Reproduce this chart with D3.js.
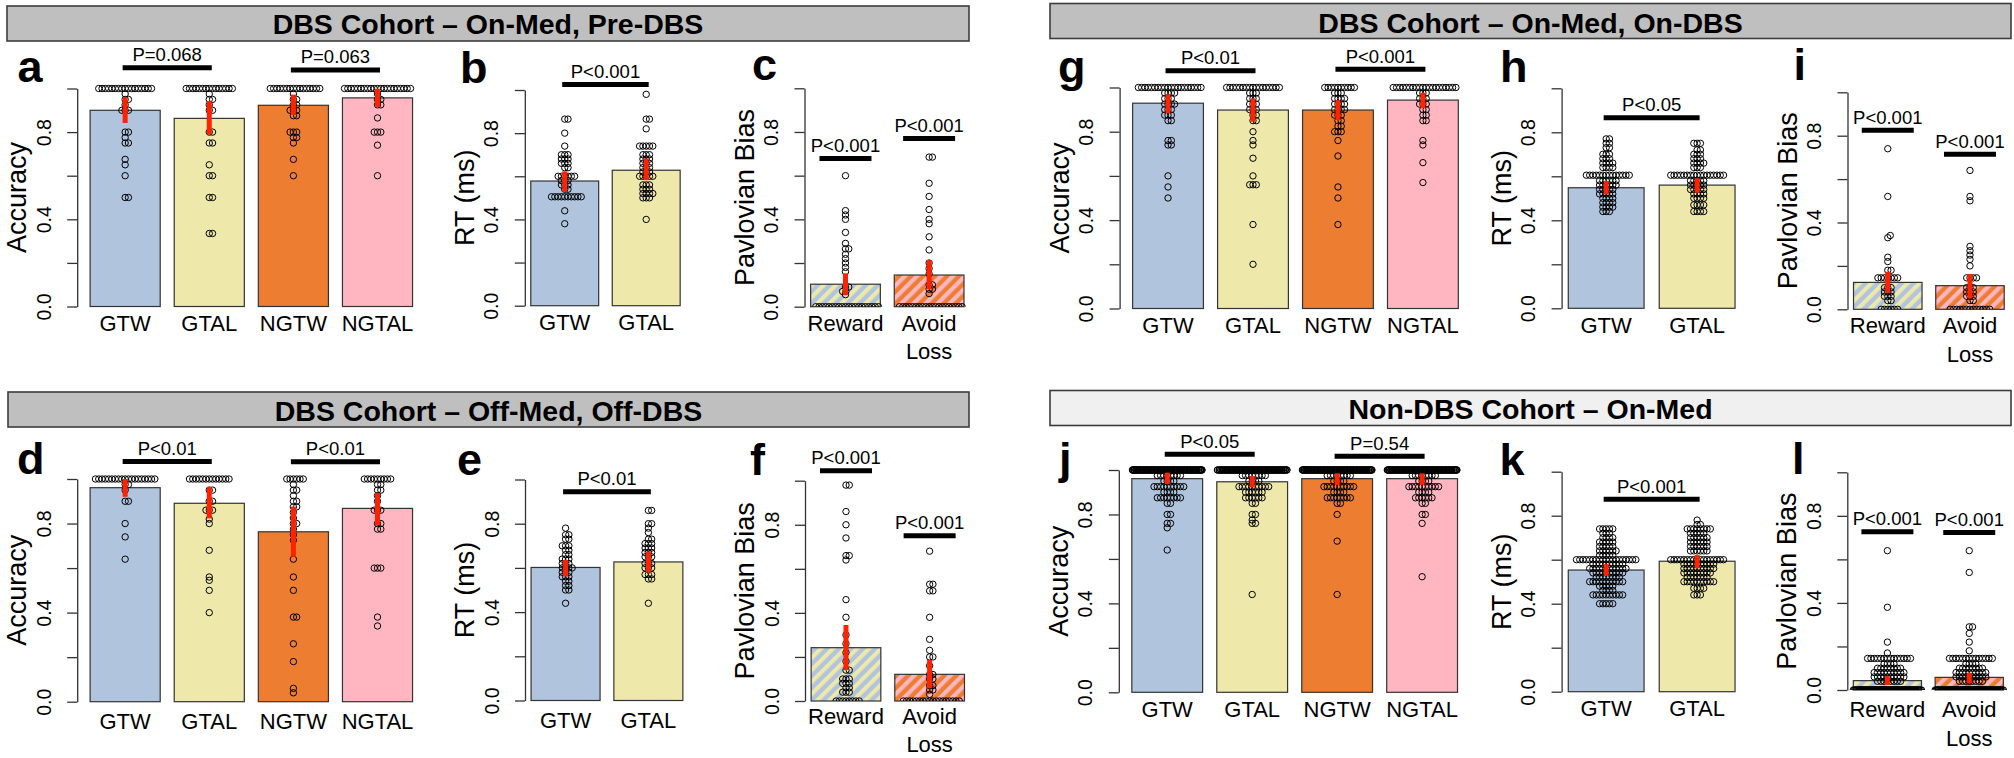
<!DOCTYPE html>
<html><head><meta charset="utf-8">
<script src="https://cdn.jsdelivr.net/npm/d3@7"></script>
<style>body{margin:0;background:#fff}svg{display:block}</style>
</head><body><svg id="chart" width="2014" height="758"></svg>
<script>
// ---------------- DATA ----------------
const accCategories = [["GTW"],["GTAL"],["NGTW"],["NGTAL"]];
const rtCategories = [["GTW"],["GTAL"]];
const biasCategories = [["Reward"],["Avoid","Loss"]];
const tickValues = [0,0.2,0.4,0.6,0.8,1.0];
const tickLabels = ["0.0","","0.4","","0.8",""];
const headerTitles = ["DBS Cohort – On-Med, Pre-DBS","DBS Cohort – On-Med, On-DBS","DBS Cohort – Off-Med, Off-DBS","Non-DBS Cohort – On-Med"];
const axisTitles = ["Accuracy","RT (ms)","Pavlovian Bias"];

// points are given as [value, count] frequency tables
// Panel a
const aMeans=[0.900,0.863,0.923,0.957], aLo=[0.842,0.789,0.880,0.916], aHi=[0.960,0.942,0.972,0.999];
const aPoints=[
 [[1,17],[0.975,1],[0.95,2],[0.925,1],[0.9,3],[0.8,2],[0.775,1],[0.75,2],[0.675,1],[0.65,1],[0.6,1],[0.5,2]],
 [[1,15],[0.975,1],[0.95,2],[0.925,1],[0.9,2],[0.8,2],[0.75,2],[0.65,1],[0.6,2],[0.5,2],[0.335,2]],
 [[1,16],[0.975,1],[0.95,2],[0.925,2],[0.9,3],[0.875,2],[0.8,3],[0.775,2],[0.75,1],[0.675,1],[0.6,1]],
 [[1,21],[0.975,1],[0.95,2],[0.925,2],[0.865,1],[0.8,3],[0.74,1],[0.6,1]]];
const aP=["P=0.068","P=0.063"], aPY=[1.095,1.085];
// Panel b
const bMeans=[0.578,0.628], bLo=[0.528,0.582], bHi=[0.623,0.683];
const bPoints=[
 [[0.865,2],[0.8,1],[0.74,1],[0.7,3],[0.68,3],[0.66,3],[0.64,2],[0.6,6],[0.58,3],[0.56,3],[0.54,2],[0.505,10],[0.44,1],[0.38,1]],
 [[0.98,1],[0.865,2],[0.82,1],[0.74,5],[0.7,3],[0.68,3],[0.66,3],[0.64,3],[0.62,3],[0.6,5],[0.56,3],[0.54,3],[0.52,4],[0.5,3],[0.4,1]]];
const bP=["P<0.001"], bPY=[1.026];
// Panel c
const cMeans=[0.103,0.145], cLo=[0.054,0.080], cHi=[0.153,0.214];
const cPoints=[
 [[0.6,1],[0.44,1],[0.42,1],[0.4,1],[0.34,1],[0.29,1],[0.265,2],[0.24,1],[0.22,1],[0.2,1],[0.18,1],[0.16,1],[0.09,2],[0.07,2],[0.055,1],[0,20]],
 [[0.685,2],[0.565,1],[0.505,1],[0.445,1],[0.4,1],[0.38,1],[0.32,1],[0.26,1],[0.2,1],[0.175,1],[0.15,1],[0.1,2],[0.08,2],[0.06,1],[0,20]]];
const cP=["P<0.001","P<0.001"], cPY=[0.678,0.770];
// Panel d
const dMeans=[0.961,0.891,0.763,0.868], dLo=[0.920,0.823,0.651,0.793], dHi=[1.0,0.965,0.876,0.936];
const dPoints=[
 [[1,19],[0.975,2],[0.95,1],[0.9,2],[0.8,1],[0.74,1],[0.64,1]],
 [[1,13],[0.95,2],[0.9,2],[0.86,3],[0.82,1],[0.8,1],[0.68,1],[0.56,1],[0.545,1],[0.5,1],[0.4,1]],
 [[1,6],[0.975,1],[0.95,2],[0.925,1],[0.9,2],[0.875,2],[0.85,1],[0.825,1],[0.8,2],[0.775,1],[0.75,1],[0.725,1],[0.64,1],[0.56,1],[0.5,1],[0.38,2],[0.26,1],[0.18,1],[0.06,1],[0.04,1]],
 [[1,9],[0.975,2],[0.95,2],[0.925,1],[0.9,1],[0.86,3],[0.8,2],[0.775,2],[0.6,3],[0.38,1],[0.34,1]]];
const dP=["P<0.01","P<0.01"], dPY=[1.079,1.078];
// Panel e
const eMeans=[0.602,0.627], eLo=[0.561,0.579], eHi=[0.636,0.674];
const ePoints=[
 [[0.78,1],[0.75,2],[0.73,2],[0.7,3],[0.68,2],[0.66,2],[0.64,3],[0.62,3],[0.6,4],[0.58,3],[0.56,3],[0.54,2],[0.52,2],[0.5,2],[0.44,1]],
 [[0.86,2],[0.8,2],[0.78,1],[0.76,1],[0.73,2],[0.71,3],[0.69,3],[0.67,3],[0.65,3],[0.62,3],[0.6,3],[0.57,3],[0.55,2],[0.44,1]]];
const eP=["P<0.01"], ePY=[0.945];
// Panel f
const fMeans=[0.242,0.121], fLo=[0.141,0.058], fHi=[0.345,0.186];
const fPoints=[
 [[0.98,2],[0.86,1],[0.8,1],[0.74,1],[0.66,2],[0.64,1],[0.46,1],[0.38,1],[0.3,1],[0.26,1],[0.22,1],[0.18,1],[0.14,2],[0.1,3],[0.08,3],[0.06,2],[0.04,3],[0,8]],
 [[0.68,1],[0.53,2],[0.5,2],[0.38,1],[0.28,1],[0.23,1],[0.2,2],[0.16,1],[0.12,2],[0.1,2],[0.07,2],[0.05,2],[0.03,1],[0,18]]];
const fP=["P<0.001","P<0.001"], fPY=[1.045,0.750];
// Panel g
const gMeans=[0.929,0.898,0.898,0.943], gLo=[0.883,0.845,0.853,0.906], gHi=[0.970,0.951,0.943,0.976];
const gPoints=[
 [[1,20],[0.975,4],[0.95,3],[0.925,4],[0.9,3],[0.875,3],[0.85,2],[0.76,2],[0.74,2],[0.6,1],[0.55,1],[0.5,1]],
 [[1,17],[0.975,3],[0.95,3],[0.925,3],[0.9,3],[0.875,2],[0.85,2],[0.8,1],[0.76,1],[0.74,1],[0.68,1],[0.6,1],[0.56,3],[0.38,1],[0.2,1]],
 [[1,10],[0.975,3],[0.95,4],[0.925,4],[0.9,4],[0.875,3],[0.85,2],[0.825,2],[0.8,3],[0.76,1],[0.69,1],[0.55,1],[0.5,1],[0.38,1]],
 [[1,20],[0.975,3],[0.95,3],[0.925,3],[0.9,2],[0.875,2],[0.85,2],[0.76,1],[0.74,1],[0.66,1],[0.57,1]]];
const gP=["P<0.01","P<0.001"], gPY=[1.076,1.083];
// Panel h
const hMeans=[0.548,0.560], hLo=[0.518,0.525], hHi=[0.579,0.591];
const hPoints=[
 [[0.77,2],[0.75,2],[0.73,2],[0.7,3],[0.68,3],[0.66,4],[0.64,4],[0.605,14],[0.58,6],[0.56,6],[0.54,5],[0.52,5],[0.5,4],[0.48,4],[0.46,4],[0.44,3]],
 [[0.75,3],[0.72,2],[0.7,3],[0.68,3],[0.66,4],[0.64,3],[0.605,17],[0.58,5],[0.56,5],[0.54,5],[0.52,4],[0.5,4],[0.47,4],[0.44,4]]];
const hP=["P<0.05"], hPY=[0.866];
// Panel i
const iMeans=[0.124,0.109], iLo=[0.074,0.050], iHi=[0.173,0.163];
const iPoints=[
 [[0.74,1],[0.52,1],[0.34,1],[0.33,1],[0.24,1],[0.22,1],[0.18,2],[0.145,7],[0.1,3],[0.08,3],[0.06,3],[0.04,2],[0,6]],
 [[0.64,1],[0.52,1],[0.5,1],[0.29,1],[0.27,1],[0.25,1],[0.23,1],[0.2,1],[0.145,4],[0.1,3],[0.08,3],[0.06,3],[0.04,2],[0,13]]];
const iP=["P<0.001","P<0.001"], iPY=[0.825,0.715];
// Panel j
const jMeans=[0.961,0.947,0.961,0.961], jLo=[0.937,0.922,0.932,0.932], jHi=[0.988,0.973,0.985,0.985];
const jPoints=[
 [[1,110],[0.975,8],[0.95,4],[0.925,10],[0.9,4],[0.875,8],[0.85,2],[0.8,2],[0.76,2],[0.74,1],[0.64,1]],
 [[1,106],[0.975,8],[0.95,4],[0.925,10],[0.9,6],[0.875,6],[0.85,2],[0.8,2],[0.775,1],[0.76,2],[0.44,1]],
 [[1,110],[0.975,8],[0.95,4],[0.925,10],[0.9,4],[0.875,8],[0.85,2],[0.8,1],[0.68,1],[0.44,1]],
 [[1,110],[0.975,8],[0.95,4],[0.925,10],[0.9,4],[0.875,6],[0.85,2],[0.8,2],[0.76,1],[0.52,1]]];
const jP=["P<0.05","P=0.54"], jPY=[1.071,1.062];
// Panel k
const kMeans=[0.553,0.593], kLo=[0.526,0.561], kHi=[0.580,0.621];
const kPoints=[
 [[0.74,5],[0.72,3],[0.7,4],[0.68,5],[0.66,5],[0.64,6],[0.62,5],[0.6,19],[0.58,10],[0.56,12],[0.54,10],[0.52,8],[0.5,11],[0.48,5],[0.46,4],[0.44,10],[0.4,5]],
 [[0.78,1],[0.76,2],[0.74,8],[0.72,5],[0.7,6],[0.68,6],[0.66,6],[0.64,6],[0.6,17],[0.58,10],[0.56,10],[0.54,9],[0.52,7],[0.5,10],[0.47,4],[0.44,3]]];
const kP=["P<0.001"], kPY=[0.875];
// Panel l
const lMeans=[0.043,0.058], lLo=[0.023,0.031], lHi=[0.064,0.079];
const lPoints=[
 [[0.64,1],[0.38,1],[0.22,1],[0.17,1],[0.145,14],[0.12,4],[0.1,8],[0.08,10],[0.06,10],[0.04,8],[0,100]],
 [[0.64,1],[0.54,1],[0.29,2],[0.26,1],[0.22,1],[0.18,1],[0.145,14],[0.12,4],[0.1,8],[0.08,10],[0.06,10],[0.04,8],[0,96]]];
const lP=["P<0.001","P<0.001"], lPY=[0.727,0.724];

// ---------------- STYLE / LAYOUT ----------------
const FONT='"Liberation Sans", Arial, Helvetica, sans-serif';
const accFills=["#b0c4de","#eee8aa","#ed7d31","#ffb6c1"];
const rtFills=["#b0c4de","#eee8aa"];
const biasFills=["url(#hatchReward)","url(#hatchAvoid)"];
const RED="#ff2200";

const svg=d3.select("#chart");
const defs=svg.append("defs");
function hatch(id,base,stripe){
  const p=defs.append("pattern").attr("id",id).attr("patternUnits","userSpaceOnUse")
    .attr("width",8.5).attr("height",8.5).attr("patternTransform","rotate(45)");
  p.append("rect").attr("width",8.5).attr("height",8.5).attr("fill",base);
  p.append("rect").attr("width",4.2).attr("height",8.5).attr("fill",stripe);
}
hatch("hatchReward","#b0c4de","#eee8aa");
hatch("hatchAvoid","#ed7d31","#ffb6c1");

// headers
const headers=[
  {x0:7,x1:969,y0:6,y1:41,base:34,fill:"#bfbfbf"},
  {x0:1050,x1:2011,y0:3.5,y1:38.5,base:32.5,fill:"#bfbfbf"},
  {x0:8,x1:969,y0:392,y1:427,base:420.5,fill:"#bfbfbf"},
  {x0:1050,x1:2011,y0:390.5,y1:425.5,base:419.3,fill:"#f0f0f0"}];
headers.forEach((h,i)=>{
  svg.append("rect").attr("x",h.x0).attr("y",h.y0).attr("width",h.x1-h.x0).attr("height",h.y1-h.y0)
    .attr("fill",h.fill).attr("stroke","#3c3c3c").attr("stroke-width",1.6);
  svg.append("text").attr("x",(h.x0+h.x1)/2).attr("y",h.base).attr("text-anchor","middle")
    .attr("font-family",FONT).attr("font-weight","bold").attr("font-size",28.5).text(headerTitles[i]);
});

const expand=t=>t.flatMap(([v,n])=>Array(n).fill(v));

function swarm(ys,dc,half){
  const order=ys.map((d,i)=>i).sort((a,b)=>ys[b]-ys[a]);
  const placed=[]; const xs=new Array(ys.length);
  for(const i of order){
    const y=ys[i];
    const near=placed.filter(p=>Math.abs(p.y-y)<dc);
    const cands=[0];
    near.forEach(p=>{const dx=Math.sqrt(dc*dc-(p.y-y)**2);cands.push(p.x+dx,p.x-dx);});
    cands.sort((a,b)=>Math.abs(a)-Math.abs(b));
    let chosen=0;
    for(const c of cands){
      if(near.every(p=>Math.abs(c-p.x)>=Math.sqrt(dc*dc-(p.y-y)**2)-1e-6)){chosen=c;break;}
    }
    placed.push({x:chosen,y}); xs[i]=chosen;
  }
  return xs.map(x=>{ if(Math.abs(x)>half){const w=2*half; x=((x+half)%w+w)%w-half;} return x; });
}

function drawPanel(cfg){
  const n=cfg.cats.length;
  const span=1.2*n-0.2;
  const lo=0.2-0.04*span, hi=1.2*n+0.04*span;
  const x=d3.scaleLinear().domain([lo,hi]).range([cfg.axisX,cfg.axisX+cfg.unit*(hi-lo)]);
  const y=d3.scaleLinear().domain([0,1]).range([cfg.y0,cfg.y1]);
  const g=svg.append("g");
  const bl=i=>x(0.2+1.2*i), br=i=>x(1.2+1.2*i), bc=i=>x(0.7+1.2*i);
  const clipId="clip_"+cfg.letter;
  defs.append("clipPath").attr("id",clipId).append("rect").attr("x",0).attr("y",0).attr("width",2014).attr("height",y(0));
  // bars
  g.selectAll("rect.bar").data(cfg.means).join("rect").attr("class","bar")
    .attr("x",(d,i)=>bl(i)).attr("width",(d,i)=>br(i)-bl(i))
    .attr("y",d=>y(d)).attr("height",d=>y(0)-y(d))
    .attr("fill",(d,i)=>cfg.fills[i]).attr("stroke","#333").attr("stroke-width",1.2);
  // axis
  const ax=d3.axisLeft(y).tickValues(tickValues).tickSize(10).tickSizeOuter(0)
    .tickFormat(d=>tickLabels[tickValues.indexOf(d)]);
  g.append("g").attr("transform",`translate(${cfg.axisX},0)`).call(ax).call(s=>{
    s.select(".domain").attr("stroke","#333").attr("stroke-width",1.3);
    s.selectAll(".tick line").attr("stroke","#333").attr("stroke-width",1.3);
    s.selectAll(".tick text").attr("transform","rotate(-90)").attr("x",0).attr("y",-26.5).attr("dy",null)
      .attr("text-anchor","middle").attr("font-size",19.5).attr("font-family",FONT).attr("fill","#000");
  });
  // points (clipped at the bottom of the plot region, as in the original)
  const pg=g.append("g").attr("clip-path",`url(#${clipId})`);
  cfg.points.forEach((grp,i)=>{
    const vals=expand(grp);
    const ys=vals.map(v=>y(v));
    const half=(br(i)-bl(i))/2;
    const offs=swarm(ys,3.3,half);
    pg.append("g").selectAll("circle").data(vals).join("circle")
      .attr("cx",(d,k)=>bc(i)+offs[k]).attr("cy",d=>y(d)).attr("r",3.2)
      .attr("fill","none").attr("stroke","#000").attr("stroke-width",1.0);
  });
  // error bars
  g.selectAll("line.err").data(cfg.means).join("line").attr("class","err")
    .attr("x1",(d,i)=>bc(i)).attr("x2",(d,i)=>bc(i))
    .attr("y1",(d,i)=>y(cfg.lo[i])).attr("y2",(d,i)=>y(cfg.hi[i]))
    .attr("stroke",RED).attr("stroke-width",5);
  // significance
  cfg.groups.forEach((grp,k)=>{
    let xa,xb;
    if(grp.length===2){xa=bc(grp[0])-2.5;xb=bc(grp[1])+2.5;} else {xa=bc(grp[0])-26;xb=bc(grp[0])+26;}
    const yy=y(cfg.pY[k]);
    g.append("line").attr("x1",xa).attr("x2",xb).attr("y1",yy).attr("y2",yy).attr("stroke","#000").attr("stroke-width",5);
    g.append("text").attr("x",(xa+xb)/2).attr("y",yy-6.5).attr("text-anchor","middle")
      .attr("font-family",FONT).attr("font-size",18.5).text(cfg.pText[k]);
  });
  // category labels
  cfg.cats.forEach((lines,i)=>{
    lines.forEach((t,li)=>{
      g.append("text").attr("x",bc(i)).attr("y",cfg.y0+cfg.labOff+li*28.5).attr("text-anchor","middle")
        .attr("font-family",FONT).attr("font-size",22).text(t);
    });
  });
  // axis title
  const ty=(cfg.y0+cfg.y1)/2, tx=cfg.axisX-51;
  g.append("text").attr("transform",`translate(${tx},${ty}) rotate(-90)`).attr("text-anchor","middle")
    .attr("font-family",FONT).attr("font-size",27).text(cfg.title);
  // panel letter
  g.append("text").attr("x",cfg.letterPos[0]).attr("y",cfg.letterPos[1]).attr("font-family",FONT)
    .attr("font-weight","bold").attr("font-size",45).text(cfg.letter);
}

const acc=(o)=>Object.assign({cats:accCategories,fills:accFills,groups:[[0,1],[2,3]],title:axisTitles[0],labOff:24.5},o);
const rt=(o)=>Object.assign({cats:rtCategories,fills:rtFills,groups:[[0,1]],title:axisTitles[1],labOff:24.5},o);
const bias=(o)=>Object.assign({cats:biasCategories,fills:biasFills,groups:[[0],[1]],title:axisTitles[2],labOff:24},o);

[
 acc({letter:"a",letterPos:[17.5,82],axisX:77.2,unit:70.1,y0:306.5,y1:88.5,means:aMeans,lo:aLo,hi:aHi,points:aPoints,pText:aP,pY:aPY}),
 rt({letter:"b",letterPos:[460,83],axisX:524.8,unit:67.9,y0:305.7,y1:90,means:bMeans,lo:bLo,hi:bHi,points:bPoints,pText:bP,pY:bPY}),
 bias({letter:"c",letterPos:[752,80],axisX:804.5,unit:69.7,y0:306.7,y1:88.3,means:cMeans,lo:cLo,hi:cHi,points:cPoints,pText:cP,pY:cPY}),
 acc({letter:"d",letterPos:[17,473.5],axisX:77.2,unit:70.1,y0:701.7,y1:479,labOff:27.5,means:dMeans,lo:dLo,hi:dHi,points:dPoints,pText:dP,pY:dPY}),
 rt({letter:"e",letterPos:[457,475],axisX:525,unit:69,y0:700.5,y1:479.5,labOff:27.5,means:eMeans,lo:eLo,hi:eHi,points:ePoints,pText:eP,pY:ePY}),
 bias({letter:"f",letterPos:[750,475],axisX:805,unit:69.7,y0:701,y1:480.7,labOff:22.5,means:fMeans,lo:fLo,hi:fHi,points:fPoints,pText:fP,pY:fPY}),
 acc({letter:"g",letterPos:[1058,82],axisX:1119.6,unit:70.8,y0:308.5,y1:87.5,means:gMeans,lo:gLo,hi:gHi,points:gPoints,pText:gP,pY:gPY}),
 rt({letter:"h",letterPos:[1500,82],axisX:1561.6,unit:75.8,y0:308.3,y1:88.3,means:hMeans,lo:hLo,hi:hHi,points:hPoints,pText:hP,pY:hPY}),
 bias({letter:"i",letterPos:[1793.5,80],axisX:1847.5,unit:68.5,y0:309.3,y1:92.3,means:iMeans,lo:iLo,hi:iHi,points:iPoints,pText:iP,pY:iPY}),
 acc({letter:"j",letterPos:[1059,474],axisX:1118.8,unit:70.8,y0:692.3,y1:470,means:jMeans,lo:jLo,hi:jHi,points:jPoints,pText:jP,pY:jPY}),
 rt({letter:"k",letterPos:[1499.5,475],axisX:1561.6,unit:75.8,y0:691.7,y1:471.7,means:kMeans,lo:kLo,hi:kHi,points:kPoints,pText:kP,pY:kPY}),
 bias({letter:"l",letterPos:[1792,473.5],axisX:1847.3,unit:68.2,y0:690,y1:472.3,labOff:27,means:lMeans,lo:lLo,hi:lHi,points:lPoints,pText:lP,pY:lPY})
].forEach(drawPanel);
</script></body></html>
